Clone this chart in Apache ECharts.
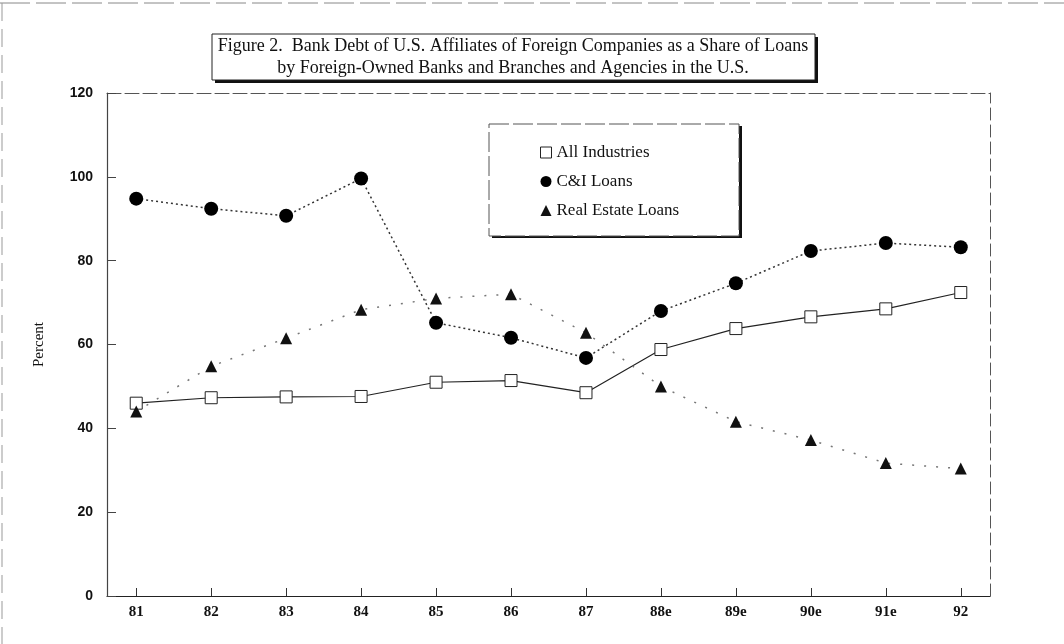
<!DOCTYPE html>
<html>
<head>
<meta charset="utf-8">
<script src="https://cdn.jsdelivr.net/npm/echarts@6/dist/echarts.min.js"></script>
<style>
  html, body { margin: 0; padding: 0; background: #fff; }
  #chart { width: 1064px; height: 644px; }
</style>
</head>
<body>
<div id="chart"></div>
<script>
// years on the x axis
const years = ['81', '82', '83', '84', '85', '86', '87', '88e', '89e', '90e', '91e', '92'];
// percent values
const allIndustries = [46, 47.3, 47.5, 47.6, 51, 51.4, 48.5, 58.8, 63.8, 66.6, 68.5, 72.4];
const ciLoans = [94.8, 92.4, 90.7, 99.6, 65.2, 61.6, 56.8, 68, 74.6, 82.3, 84.2, 83.2];
const realEstate = [44, 54.8, 61.5, 68.3, 71, 72, 62.8, 50, 41.6, 37.2, 31.7, 30.4];
const yTicks = [0, 20, 40, 60, 80, 100, 120];

const serif = '"Liberation Serif", "DejaVu Serif", serif';
const sans = '"Liberation Sans", Arial, sans-serif';
const toPairs = arr => arr.map((v, i) => [i, v]);
const yearIdx = years.map((_, i) => i);

const chart = echarts.init(document.getElementById('chart'));
chart.setOption({
  animation: false,
  backgroundColor: '#fff',
  grid: { left: 107, right: 74, top: 93, bottom: 48 },
  xAxis: [{
    type: 'value',
    min: -0.39,
    max: 11.39,
    splitLine: { show: false },
    axisLine: { onZero: false, lineStyle: { color: '#222', width: 1.2 } },
    axisTick: { inside: true, length: 8, customValues: yearIdx, lineStyle: { color: '#333' } },
    axisLabel: {
      customValues: yearIdx,
      formatter: v => years[Math.round(v)],
      fontFamily: serif, fontWeight: 'bold', fontSize: 15, color: '#111', margin: 9
    }
  }, {
    type: 'value',
    position: 'top',
    min: -0.39,
    max: 11.39,
    splitLine: { show: false },
    axisTick: { show: false },
    axisLabel: { show: false },
    axisLine: { show: true, onZero: false, lineStyle: { color: '#555', type: [14, 4] } }
  }],
  yAxis: [{
    type: 'value',
    min: 0,
    max: 120,
    interval: 20,
    name: 'Percent',
    nameLocation: 'middle',
    nameGap: 60,
    nameRotate: 90,
    nameTextStyle: { fontFamily: serif, fontSize: 15, color: '#111' },
    splitLine: { show: false },
    axisLine: { show: true, onZero: false, lineStyle: { color: '#444', width: 1.2 } },
    axisTick: { show: true, inside: true, length: 9, lineStyle: { color: '#444' } },
    axisLabel: {
      customValues: yTicks,
      fontFamily: sans, fontWeight: 'bold', fontSize: 14, color: '#111', margin: 14
    }
  }, {
    type: 'value',
    position: 'right',
    min: 0,
    max: 120,
    splitLine: { show: false },
    axisTick: { show: false },
    axisLabel: { show: false },
    axisLine: { show: true, onZero: false, lineStyle: { color: '#555', type: [12, 5] } }
  }],
  legend: {
    orient: 'vertical',
    left: 489,
    top: 124,
    padding: [20, 53, 16, 51],
    itemGap: 12,
    itemWidth: 11,
    itemHeight: 11,
    z: 10,
    textStyle: { fontFamily: serif, fontSize: 17, color: '#111', lineHeight: 17 },
    data: [
      { name: 'All Industries', icon: 'rect', itemStyle: { color: '#fff', borderColor: '#222', borderWidth: 1 } },
      { name: 'C&I Loans', icon: 'circle' },
      { name: 'Real Estate Loans', icon: 'triangle' }
    ]
  },
  graphic: [
    // scanned page edge
    { type: 'line', shape: { x1: 0, y1: 3, x2: 1064, y2: 3 }, style: { stroke: '#888', lineWidth: 1, lineDash: [30, 6] }, silent: true },
    { type: 'line', shape: { x1: 2, y1: 3, x2: 2, y2: 644 }, style: { stroke: '#999', lineWidth: 1, lineDash: [18, 8] }, silent: true },
    // title box with drop shadow
    { type: 'rect', shape: { x: 215, y: 37, width: 603, height: 46 }, style: { fill: '#111' }, silent: true },
    { type: 'rect', shape: { x: 212, y: 34, width: 603, height: 46 }, style: { fill: '#fff', stroke: '#222', lineWidth: 1 }, silent: true },
    {
      type: 'text', x: 513, y: 57, silent: true,
      style: {
        text: 'Figure 2.  Bank Debt of U.S. Affiliates of Foreign Companies as a Share of Loans\nby Foreign-Owned Banks and Branches and Agencies in the U.S.',
        font: '18px ' + serif, fill: '#111', align: 'center', verticalAlign: 'middle', lineHeight: 22
      }
    },
    // legend box with drop shadow
    { type: 'rect', shape: { x: 492, y: 126, width: 250, height: 112 }, style: { fill: '#111' }, silent: true, z: 1 },
    { type: 'rect', shape: { x: 489, y: 124, width: 250, height: 112 }, style: { fill: '#fff', stroke: '#555', lineWidth: 1, lineDash: [20, 4] }, silent: true, z: 1 }
  ],
  series: [{
    name: 'All Industries',
    type: 'line',
    data: toPairs(allIndustries),
    symbol: 'rect',
    symbolSize: 12,
    z: 3,
    itemStyle: { color: '#fff', borderColor: '#222', borderWidth: 1 },
    lineStyle: { color: '#222', width: 1.2 }
  }, {
    name: 'C&I Loans',
    type: 'line',
    data: toPairs(ciLoans),
    symbol: 'circle',
    symbolSize: 14,
    z: 4,
    itemStyle: { color: '#000' },
    lineStyle: { color: '#333', width: 1.5, type: [2, 3] }
  }, {
    name: 'Real Estate Loans',
    type: 'line',
    data: toPairs(realEstate),
    symbol: 'triangle',
    symbolSize: 12,
    z: 5,
    itemStyle: { color: '#111' },
    lineStyle: { color: '#777', width: 1.5, type: [2, 10] }
  }]
});
</script>
</body>
</html>
